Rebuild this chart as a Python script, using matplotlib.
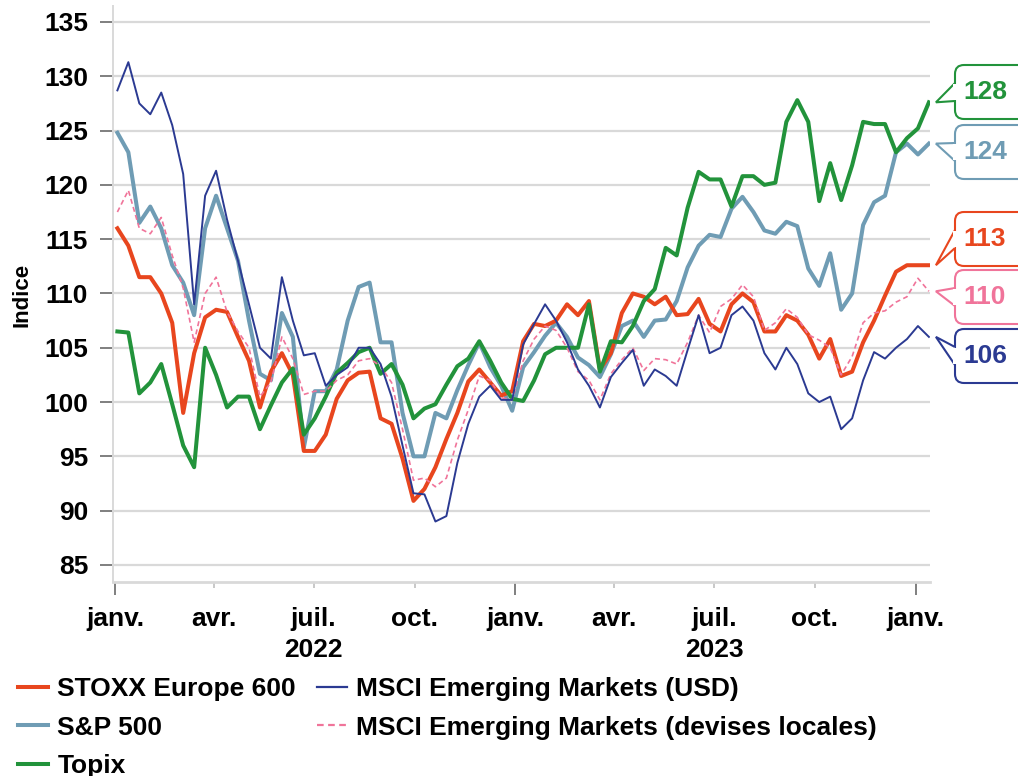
import matplotlib
matplotlib.use("Agg")
from matplotlib import pyplot as plt
from matplotlib.lines import Line2D
from matplotlib.patches import FancyBboxPatch, Polygon, Rectangle
from matplotlib.transforms import Affine2D
import matplotlib.dates as mdates
import pandas as pd

plt.rcParams["font.family"] = ["Liberation Sans", "DejaVu Sans"]
plt.rcParams["font.weight"] = "bold"

# one reading every 10 days, Jan 2022 -> Jan 2024
dates = pd.date_range("2022-01-03", periods=75, freq="10D")

stoxx = [116, 114.4, 111.5, 111.5, 110, 107.3, 99, 104.5, 107.8, 108.5, 108.3, 106, 103.8, 99.5, 102.8, 104.5, 102.5, 95.5, 95.5,
         97, 100.3, 102, 102.7, 102.8, 98.5, 98, 94.8, 90.9, 92, 94, 96.6, 99, 101.9, 103, 101.8, 100.6, 101,
         105.6, 107.2, 107, 107.5, 109, 108, 109.3, 103, 104.5, 108.2, 110, 109.7, 109, 109.7, 108, 108.1, 109.5, 107.2,
         106.5, 109, 110, 109.2, 106.5, 106.5, 108, 107.5, 106.2, 104, 105.8, 102.4, 102.8, 105.5, 107.5, 109.8, 112, 112.6, 112.6, 112.6]
sp500 = [124.8, 123, 116.5, 118, 116, 112.6, 111, 108, 116, 119, 116, 113, 107.5, 102.6, 102, 108.2, 106, 95.8, 101,
         101, 103, 107.5, 110.6, 111, 105.5, 105.5, 99, 95, 95, 99, 98.5, 101.1, 103.4, 105.5, 103.2, 101.5, 99.2,
         103.2, 104.6, 106.1, 107.3, 106, 104.1, 103.4, 102.3, 104.4, 107, 107.5, 106, 107.5, 107.6, 109.3, 112.4, 114.4, 115.4,
         115.2, 117.8, 118.9, 117.5, 115.8, 115.5, 116.6, 116.2, 112.3, 110.7, 113.7, 108.5, 110, 116.3, 118.4, 119, 123, 123.8, 122.8, 123.8]
topix = [106.5, 106.4, 100.8, 101.8, 103.5, 99.8, 96, 94, 105, 102.5, 99.5, 100.5, 100.5, 97.5, 99.7, 101.8, 103.1, 97, 98.5,
         100.5, 102.7, 103.6, 104.6, 105, 102.6, 103.5, 101.6, 98.5, 99.4, 99.8, 101.6, 103.3, 104, 105.6, 103.8, 101.8, 100.3,
         100.1, 102, 104.4, 105, 105, 105, 109, 102.8, 105.6, 105.5, 107, 109.3, 110.4, 114.2, 113.5, 117.9, 121.2, 120.5,
         120.5, 118, 120.8, 120.8, 120, 120.2, 125.8, 127.8, 125.8, 118.5, 122, 118.6, 121.8, 125.8, 125.6, 125.6, 123, 124.3, 125.2, 127.6]
em_usd = [128.7, 131.3, 127.5, 126.5, 128.5, 125.5, 121, 109, 119, 121.3, 116.8, 113, 109, 105, 104, 111.5, 107.5, 104.3, 104.5,
          101.5, 102.5, 103.2, 105, 105, 103.5, 100.5, 96, 91.6, 91.5, 89, 89.5, 94.4, 98, 100.5, 101.5, 100.2, 100.2,
          105.3, 107.2, 109, 107.5, 105.5, 103, 101.5, 99.5, 102.3, 103.6, 104.8, 101.5, 103, 102.4, 101.5, 104.8, 108, 104.5,
          105, 108, 108.8, 107.5, 104.5, 103, 105, 103.5, 100.8, 100, 100.5, 97.5, 98.5, 102, 104.6, 104, 105, 105.8, 107, 106]
em_local = [117.5, 119.5, 116, 115.5, 117, 113.5, 110.5, 105.5, 110, 111.5, 108.3, 106.5, 105, 100.5, 101.8, 106, 104, 100.7, 101,
            101, 102, 102.5, 103.8, 104, 103.3, 101.8, 97.5, 92.8, 93, 92.2, 93, 96.5, 99.3, 102.4, 102, 100.4, 100.2,
            103.8, 105.8, 107, 106.6, 105, 102.8, 102, 100.2, 102.6, 103.9, 105, 102.9, 104, 103.9, 103.5, 105.5, 108, 106.4,
            108.8, 109.5, 110.8, 109.7, 106.6, 107.3, 108.6, 107.8, 106.2, 105.7, 105, 102.5, 104.2, 107.3, 108.2, 108.4, 109.2, 109.7, 111.4, 110.2]

tick_dates = pd.date_range("2022-01-01", "2024-01-01", freq="QS")
tick_labels = ["janv.", "avr.", "juil.\n2022", "oct.", "janv.", "avr.", "juil.\n2023", "oct.", "janv."]
year_starts = pd.to_datetime(["2022-01-01", "2023-01-01", "2024-01-01"])

RED, GREY, GREEN, NAVY, PINK = "#e8461e", "#6f9cb4", "#22933b", "#2b3a92", "#f0749a"

# name, values, colour, width, style, zorder
series = {
    "STOXX Europe 600": (stoxx, RED, 2.9, "-", 3),
    "S&P 500": (sp500, GREY, 2.9, "-", 2),
    "Topix": (topix, GREEN, 2.9, "-", 4),
    "MSCI Emerging Markets (USD)": (em_usd, NAVY, 1.4, "-", 6),
    "MSCI Emerging Markets (devises locales)": (em_local, PINK, 1.2, (0, (3, 2)), 5),
}

W, H = 1018, 776
fig = plt.figure(figsize=(W / 100, H / 100), dpi=100)
ax = fig.add_axes([113 / W, 1 - 582 / H, (930 - 113) / W, (582 - 6) / H])

for name, (vals, color, lw, ls, z) in series.items():
    ax.plot(dates, vals, color=color, lw=lw, ls=ls, zorder=z, label=name)

ax.set_xlim(pd.Timestamp("2021-12-30"), pd.Timestamp("2024-01-14"))
ax.set_ylim(83.43, 136.47)
ax.set_yticks(range(85, 136, 5))
ax.yaxis.grid(True, color="#d9d9d9", lw=1.6)
ax.set_axisbelow(True)

for side in ("top", "right"):
    ax.spines[side].set_visible(False)
ax.spines["left"].set_color("#d9d9d9")
ax.spines["left"].set_linewidth(1.4)
ax.spines["bottom"].set_color("#d9d9d9")
ax.spines["bottom"].set_linewidth(2)

ax.set_xticks(tick_dates)
ax.set_xticklabels(tick_labels)
for lab in ax.get_xticklabels():
    lab.set_linespacing(1.4)
ax.set_xticks(year_starts, minor=True)
ax.xaxis.remove_overlapping_locs = False
ax.tick_params(axis="x", which="major", length=4.3, width=1.4, color="#c8c8c8", pad=13.5, labelsize=19)
ax.tick_params(axis="x", which="minor", length=9.4, width=1.4, color="#7f7f7f")
ax.tick_params(axis="y", length=9.4, width=1.4, color="#7f7f7f", pad=8.6, labelsize=19)

fig.text(22 / W, 1 - 295 / H, "Indice", rotation=90, ha="center", va="center", fontsize=16)

# speech-bubble labels at the right end
pix = Affine2D().scale(1 / W, -1 / H).translate(0, 1) + fig.transFigure
bubble_centres = {"Topix": 92, "S&P 500": 152, "STOXX Europe 600": 239,
                  "MSCI Emerging Markets (devises locales)": 297, "MSCI Emerging Markets (USD)": 356}
for name, centre in bubble_centres.items():
    vals, color = series[name][0], series[name][1]
    dx, dy = ax.transData.transform((mdates.date2num(dates[-1]), vals[-1]))
    tip = (dx + 7, H - dy)
    ax.add_patch(FancyBboxPatch((955, centre - 27), 90, 54, boxstyle="round,pad=0,rounding_size=9",
                                transform=pix, fc="white", ec=color, lw=1.5, clip_on=False, zorder=10))
    a1, a2 = centre - 9, centre + 9
    ax.add_patch(Polygon([(955, a1), tip, (955, a2)], closed=False, transform=pix, fc="white",
                         ec=color, lw=1.5, clip_on=False, zorder=11))
    ax.add_patch(Rectangle((953.5, a1 + 1.2), 4, a2 - a1 - 2.4, transform=pix, fc="white", ec="none",
                           clip_on=False, zorder=12))
    ax.text(985, centre, f"{vals[-1]:.0f}", transform=pix, ha="center", va="center",
            fontsize=19, color=color, zorder=13, clip_on=False)

handles = [Line2D([], [], color=c, lw=lw if lw > 2 else 1.6, ls=ls) for (_, c, lw, ls, _) in series.values()]
fig.legend(handles, list(series.keys()), loc="upper left", bbox_to_anchor=(18 / W, 1 - 677 / H),
           ncol=2, frameon=False, fontsize=19, handlelength=1.15, handletextpad=0.34,
           columnspacing=0.8, labelspacing=0.55, borderpad=0, borderaxespad=0)

fig.savefig("out.png", dpi=100)
plt.close(fig)
